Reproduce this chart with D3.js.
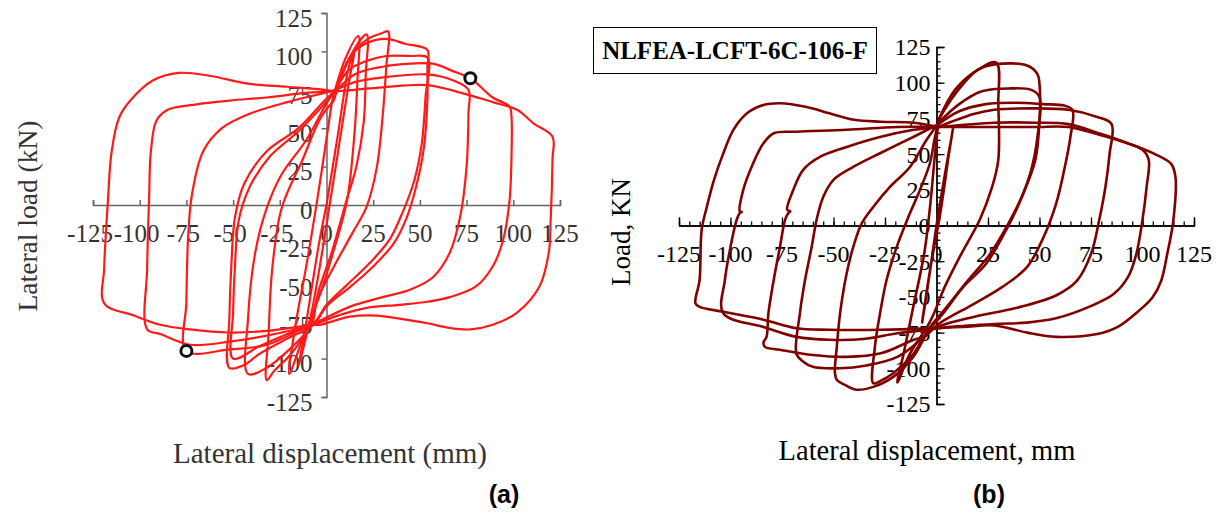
<!DOCTYPE html>
<html>
<head>
<meta charset="utf-8">
<script src="https://cdn.jsdelivr.net/npm/d3@7/dist/d3.min.js"></script>
<style>
  body { margin: 0; background: #fff; }
  svg { display: block; }
</style>
</head>
<body>
<svg id="chart" width="1229" height="525"></svg>
<script>
// tick values shared by both panels
var majorTicks = [-125, -100, -75, -50, -25, 0, 25, 50, 75, 100, 125];

// ---- panel (a): test, cycles as [displacement mm, load kN]
var aCycle0 = [[0,0],[6,45],[12,90],[15,100],[12,80],[3,10],[-8,-70],[-15,-105],[-12,-85],[-4,-25],[0,0]];
var aCycle1 = [[3,68],[10,95],[17,110],[16.5,80],[15,47],[11,3],[4,-29],[-4,-60],[-13,-88],[-20,-110],[-16,-74],[-11,-41],[-5,3],[-1,35],[3,68]];
var aCycle2 = [[4,68],[12,95],[21.5,111],[21,85],[20,55],[16,25],[10,0],[3,-30],[-4,-55],[-9,-78],[-19,-97],[-28,-108],[-32,-114],[-31,-84],[-29,-41],[-24,-2],[-13,29],[-3,57],[4,68]];
var aCycle3 = [[5,76],[13,97],[22,108],[30,112],[33,113],[32,90],[30,57],[27,25],[21.5,-1],[14,-18],[4,-40],[-5,-62],[-8,-78],[-19,-93],[-32,-106],[-42,-110],[-42,-74],[-38,-30],[-32,-2],[-24,20],[-11,42],[-1,64],[5,76]];
var aCycle4 = [[5,75],[15,100],[25,107],[33,108],[42,105],[54,101],[54,90],[54,68],[52,36],[48,12],[43,-8],[36,-25],[25,-40],[13,-53],[0,-66],[-7,-78],[-21,-87],[-36,-97],[-44,-104],[-52,-106],[-52,-74],[-51,-41],[-49,-8],[-44,14],[-32,35],[-15,50],[-1,68],[5,75]];
var aCycle4b = [[5,75],[12,88],[22,94],[32,97],[45,97],[54,96],[53,70],[51,40],[47,16],[41,-4],[34,-22],[23,-38],[11,-52],[0,-65],[-7,-77],[-21,-84],[-36,-92],[-50,-100],[-50,-70],[-49,-40],[-47,-10],[-41,12],[-30,32],[-15,48],[-1,66],[5,75]];
var aCycle5 = [[5,75],[15,80],[30,83],[54,85],[68,81],[76,75],[76,60],[75,25],[71.5,-8],[66,-31],[57,-47],[45,-55],[30,-60],[13,-66],[-3,-75],[-7,-77],[-32,-91],[-52,-94],[-75,-95],[-75,-63],[-74,-19],[-72,7],[-66,35],[-56,50],[-42,59],[-21,67],[-1,73],[5,75]];
var aCycle6 = [[5,74],[15,85],[30,90],[45,92],[57,92],[68,87],[77,82.5],[89,70],[98,64],[99,58],[99,30],[98,3],[94.5,-23],[89,-40],[80,-53],[66,-60],[54,-63],[39,-65],[21.5,-67],[3.6,-73],[-7,-78],[-32,-85],[-52,-89],[-73,-91],[-89,-84],[-96,-81],[-96,-41],[-95,3],[-94,35],[-91,55],[-85,62],[-73,65],[-52,68],[-32,70],[-11,73],[5,74]];
var aCycle7 = [[5,74],[15,75],[30,76.6],[54,78],[75,72],[89,67],[102,62],[111,53],[121,44.5],[121,30],[120,-10],[119,-31],[114,-53],[102,-70],[89,-78],[77,-81],[66,-80],[54,-77],[39,-74],[27,-72],[12.6,-72.7],[-3.5,-78],[-7,-78],[-32,-82],[-52,-83],[-73,-81],[-89,-78],[-103,-72],[-119,-64],[-119,-41],[-117,3],[-115,35],[-111,57],[-105,68],[-93,81],[-79,86],[-62,84],[-42,79],[-21,77],[-1,75],[5,74]];
var aMarkers = [[77,82.5],[-75,-95]];

// ---- panel (b): NLFEA model
var bCycle0 = [[0,0],[4,35],[8,68],[6,50],[2,10],[-3,-30],[-7,-68],[-5,-50],[0,0]];
var bCycle1 = [[1,74],[9,95],[20,109],[29,114],[30,85],[30,46],[27,27],[21,4],[12,-20],[4,-43],[-3,-67],[-13,-90],[-19,-110],[-16,-90],[-11,-55],[-6,-20],[-3,15],[-1,46],[1,74]];
var bCycle2 = [[1,74],[9,92],[20,109],[29,113],[44,112],[49,106],[50,99],[50,74],[48,46],[42,22],[34,-1],[26,-20],[15,-39],[5,-57],[-3,-71],[-11.3,-90],[-21,-103.5],[-27.4,-109],[-30.7,-110.5],[-29.9,-85],[-27.4,-61.5],[-24.2,-38],[-19.3,-15],[-12.9,8.5],[-8,25],[-3.2,43.6],[-1,60],[1,74]];
var bCycle3 = [[1,72],[11,85],[22,94],[36,96],[46,95],[50,90],[49,62],[46,39],[40,15],[32,-8],[24,-27],[13,-43],[3,-62],[-4,-74],[-11.3,-92],[-21,-106],[-30.7,-113],[-38.7,-115],[-44,-112],[-48.4,-108],[-49.3,-103.5],[-48.4,-85],[-46.8,-61.5],[-43.6,-33.5],[-40.4,-15],[-36.3,1.5],[-30.7,13],[-22.6,27],[-12.9,41],[-4.8,60],[1,72]];
var bCycle4 = [[1,71],[11,80],[24,85],[38,86],[52,85],[62,84],[66,81],[65,62],[62,39],[58,15],[52,-8],[44,-29],[32,-43],[18,-55],[1,-69],[-6,-78],[-19,-92],[-34,-98],[-47,-100],[-60,-99],[-65,-95],[-68,-90],[-66.3,-61.5],[-63.8,-38],[-60.6,-15],[-58.2,4],[-55,20],[-50,32],[-40.4,41],[-27.4,50.6],[-11.3,62],[1,71]];
var bCycle5 = [[1,69],[18,78],[28,81],[48,82],[64,81],[78,76],[85,71],[84,50],[82,27],[79,4],[75,-20],[68,-39],[58,-49],[38,-58],[18,-64],[-1,-72],[-6,-78],[-11,-80],[-27,-89.5],[-43.6,-92],[-60,-90.7],[-76,-87],[-83.3,-85],[-84,-82],[-82.5,-78],[-81.6,-61.5],[-79,-38],[-76,-15],[-73.5,4],[-72,8.5],[-71,10],[-72.5,11],[-69.5,25],[-64.7,39],[-56.6,48],[-43.6,55],[-27.4,62],[-11,67],[1,69]];
var bCycle6 = [[1,69],[28,69],[48,69],[64,69],[78,64],[92,58],[100,53],[103,46],[102,27],[100,4],[97,-20],[93,-36],[86,-48],[74,-57],[58,-65],[44,-68],[28,-69],[7,-71],[-4.5,-73],[-19,-75.5],[-35.5,-79.5],[-52,-80],[-68,-78],[-84,-71],[-103.5,-61.5],[-102.7,-38],[-100,-15],[-97,4],[-95.5,8.7],[-94.5,9.5],[-95.5,10],[-93.8,25],[-89,43.6],[-84,57.6],[-79,64.6],[-68,65.7],[-43.6,67],[-19,69],[1,69]];
var bCycle7 = [[1,69],[28,72],[48,72],[64,71],[80,64],[94,57],[106,50],[114,43],[116,34],[115,4],[112,-20],[109,-39],[105,-50],[98,-60],[88,-71],[78,-76],[58,-78],[44,-75],[28,-70],[13,-71],[-3,-72],[-27,-73],[-52,-73],[-68,-72],[-84,-66],[-103.5,-60.4],[-115,-57],[-117,-54.5],[-115,-38],[-114,-3],[-111.5,13],[-108,32],[-103.5,50.5],[-98.6,67],[-92,78.6],[-84,84.4],[-76,85.6],[-63,83],[-52,78.6],[-40,74],[-27,72.7],[-11,72],[1,69]];

var svg = d3.select("#chart");
var serif = "'Liberation Serif', 'Times New Roman', serif";

//================ panel (a)
var xA = d3.scaleLinear().domain([-125, 125]).range([93, 560]);
var yA = d3.scaleLinear().domain([-125, 125]).range([397, 13]);
var gA = svg.append("g");

gA.append("g")
  .attr("transform", "translate(0," + yA(0) + ")")
  .call(d3.axisBottom(xA).tickValues(majorTicks).tickSize(-5).tickFormat(""));
gA.append("g")
  .attr("transform", "translate(" + xA(0) + ",0)")
  .call(d3.axisLeft(yA).tickValues(majorTicks).tickSize(5).tickFormat(""));
gA.selectAll(".domain, .tick line").attr("stroke", "#666").attr("stroke-width", 1.5);

gA.selectAll("text.xl").data(majorTicks).enter().append("text")
  .attr("x", d => xA(d) - (d < 0 ? 3 : 0)).attr("y", 242)
  .attr("text-anchor", "middle")
  .style("font-family", serif).style("font-size", "25px").style("fill", "#333")
  .text(d => d);
gA.selectAll("text.yl").data(majorTicks).enter().append("text")
  .attr("x", xA(0) - 14).attr("y", d => yA(d) + 5).attr("dy", "0.35em")
  .attr("text-anchor", "end")
  .style("font-family", serif).style("font-size", "25px").style("fill", "#333")
  .text(d => d);

gA.append("text")
  .attr("x", 330).attr("y", 463).attr("text-anchor", "middle")
  .style("font-family", serif).style("font-size", "29px").style("fill", "#333")
  .text("Lateral displacement (mm)");
gA.append("text")
  .attr("transform", "translate(37,216) rotate(-90)").attr("text-anchor", "middle")
  .style("font-family", serif).style("font-size", "27.5px").style("fill", "#333")
  .text("Lateral load (kN)");

var lineA = d3.line().x(d => xA(d[0])).y(d => yA(d[1])).curve(d3.curveCatmullRom.alpha(0.5));
gA.selectAll("path.cyc")
  .data([aCycle0, aCycle1, aCycle2, aCycle3, aCycle4, aCycle4b, aCycle5, aCycle6, aCycle7])
  .enter().append("path")
  .attr("d", lineA)
  .attr("fill", "none").attr("stroke", "#ff1a1a").attr("stroke-width", 2.2)
  .attr("stroke-linejoin", "round");

gA.selectAll("circle").data(aMarkers).enter().append("circle")
  .attr("cx", d => xA(d[0])).attr("cy", d => yA(d[1])).attr("r", 5.5)
  .attr("fill", "#fff").attr("stroke", "#111").attr("stroke-width", 3);

//================ panel (b)
var xB = d3.scaleLinear().domain([-125, 125]).range([679, 1194]);
var yB = d3.scaleLinear().domain([-125, 125]).range([404, 47]);
var gB = svg.append("g");

// minor ticks every 5, major every 25
gB.append("g")
  .attr("transform", "translate(0," + yB(0) + ")")
  .call(d3.axisBottom(xB).ticks(50).tickSize(-4).tickSizeOuter(0).tickFormat(""));
gB.append("g")
  .attr("transform", "translate(0," + yB(0) + ")")
  .call(d3.axisBottom(xB).tickValues(majorTicks).tickSize(-8).tickFormat(""));
gB.append("g")
  .attr("transform", "translate(" + xB(0) + ",0)")
  .call(d3.axisRight(yB).ticks(50).tickSize(4).tickSizeOuter(0).tickFormat(""));
gB.append("g")
  .attr("transform", "translate(" + xB(0) + ",0)")
  .call(d3.axisRight(yB).tickValues(majorTicks).tickSize(8).tickFormat(""));
gB.selectAll(".domain, .tick line").attr("stroke", "#000").attr("stroke-width", 1.3);

gB.selectAll("text.xl").data(majorTicks).enter().append("text")
  .attr("x", d => xB(d)).attr("y", 262)
  .attr("text-anchor", "middle")
  .style("font-family", serif).style("font-size", "24px").style("fill", "#000")
  .text(d => d);
gB.selectAll("text.yl").data(majorTicks).enter().append("text")
  .attr("x", xB(0) - 6).attr("y", d => yB(d)).attr("dy", "0.35em")
  .attr("text-anchor", "end")
  .style("font-family", serif).style("font-size", "24px").style("fill", "#000")
  .text(d => d);

gB.append("text")
  .attr("x", 927).attr("y", 460).attr("text-anchor", "middle")
  .style("font-family", serif).style("font-size", "28.5px").style("fill", "#000")
  .text("Lateral displacement, mm");
gB.append("text")
  .attr("transform", "translate(630,232) rotate(-90)").attr("text-anchor", "middle")
  .style("font-family", serif).style("font-size", "27px").style("fill", "#000")
  .text("Load, KN");

// model name box
gB.append("rect")
  .attr("x", 593.5).attr("y", 27.5).attr("width", 283).attr("height", 46)
  .attr("fill", "#fff").attr("stroke", "#000").attr("stroke-width", 1);
gB.append("text")
  .attr("x", 735).attr("y", 59).attr("text-anchor", "middle")
  .style("font-family", serif).style("font-size", "25px").style("font-weight", "bold").style("fill", "#000")
  .text("NLFEA-LCFT-6C-106-F");

var lineB = d3.line().x(d => xB(d[0])).y(d => yB(d[1])).curve(d3.curveCatmullRom.alpha(0.5));
gB.selectAll("path.cyc")
  .data([bCycle0, bCycle1, bCycle2, bCycle3, bCycle4, bCycle5, bCycle6, bCycle7])
  .enter().append("path")
  .attr("d", lineB)
  .attr("fill", "none").attr("stroke", "#800000").attr("stroke-width", 2.6)
  .attr("stroke-linejoin", "round");

//================ panel captions
svg.append("text").attr("x", 504).attr("y", 503).attr("text-anchor", "middle")
  .style("font-family", "'Liberation Sans', Arial, sans-serif")
  .style("font-size", "25px").style("font-weight", "bold")
  .text("(a)");
svg.append("text").attr("x", 989).attr("y", 503).attr("text-anchor", "middle")
  .style("font-family", "'Liberation Sans', Arial, sans-serif")
  .style("font-size", "25px").style("font-weight", "bold")
  .text("(b)");
</script>
</body>
</html>
